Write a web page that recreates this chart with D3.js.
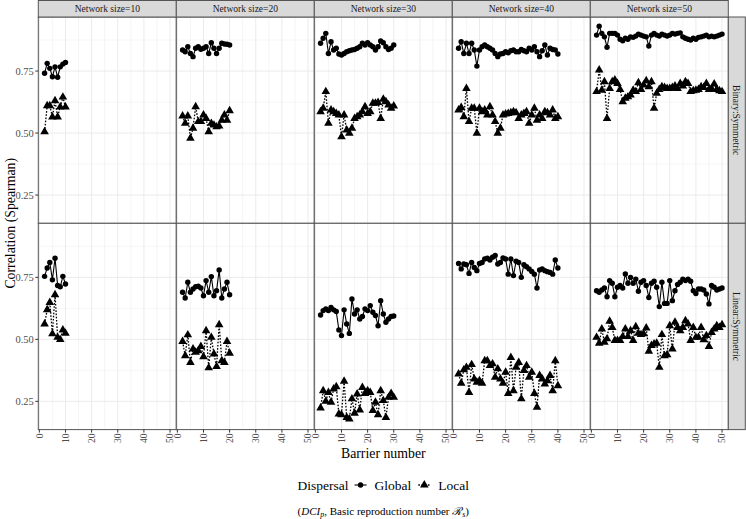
<!DOCTYPE html>
<html><head><meta charset="utf-8">
<script src="https://cdn.jsdelivr.net/npm/d3@7"></script>
<style>body{margin:0;background:#fff} svg{display:block}</style>
</head><body><svg id="c" width="746" height="519"></svg>
<script>
// ---- data ----
const networkSizes = [10, 20, 30, 40, 50];
const rowLabels = ["Binary:Symmetric", "Linear:Symmetric"];
const yTicks = [0.25, 0.50, 0.75];
const xTicks = [0, 10, 20, 30, 40, 50];
const firstBarrier = 2;

const binGlobal10 = [0.741,0.781,0.761,0.727,0.767,0.725,0.767,0.778,0.785];
const binLocal10  = [0.505,0.61,0.61,0.565,0.63,0.565,0.605,0.645,0.605];
const binGlobal20 = [0.835,0.828,0.848,0.821,0.808,0.842,0.848,0.838,0.842,0.848,0.821,0.864,0.842,0.821,0.842,0.862,0.859,0.858,0.855];
const binLocal20  = [0.569,0.539,0.569,0.479,0.519,0.606,0.546,0.546,0.573,0.559,0.505,0.539,0.532,0.525,0.528,0.552,0.573,0.552,0.590];
const binGlobal30 = [0.862,0.882,0.902,0.821,0.868,0.835,0.842,0.819,0.815,0.821,0.828,0.832,0.835,0.837,0.842,0.848,0.862,0.855,0.864,0.855,0.848,0.835,0.848,0.871,0.864,0.848,0.837,0.842,0.855];
const binLocal30  = [0.586,0.600,0.667,0.539,0.593,0.586,0.579,0.573,0.485,0.573,0.512,0.499,0.519,0.559,0.566,0.573,0.586,0.606,0.579,0.586,0.620,0.620,0.623,0.559,0.636,0.626,0.613,0.600,0.609];
const binGlobal40 = [0.842,0.868,0.821,0.862,0.821,0.862,0.835,0.770,0.835,0.848,0.855,0.848,0.842,0.835,0.821,0.808,0.819,0.821,0.828,0.824,0.832,0.835,0.828,0.828,0.837,0.832,0.828,0.842,0.835,0.848,0.828,0.808,0.832,0.855,0.815,0.842,0.837,0.835,0.819];
const binLocal40  = [0.593,0.603,0.566,0.680,0.546,0.600,0.600,0.499,0.600,0.586,0.593,0.573,0.606,0.573,0.546,0.499,0.519,0.573,0.577,0.579,0.582,0.586,0.582,0.559,0.573,0.579,0.586,0.539,0.573,0.600,0.552,0.573,0.559,0.586,0.582,0.573,0.593,0.559,0.566];
const binGlobal50 = [0.895,0.931,0.902,0.888,0.846,0.902,0.902,0.902,0.895,0.878,0.872,0.882,0.878,0.888,0.886,0.891,0.899,0.895,0.891,0.888,0.851,0.895,0.902,0.895,0.891,0.899,0.895,0.891,0.895,0.902,0.899,0.902,0.904,0.888,0.882,0.878,0.875,0.882,0.878,0.886,0.888,0.891,0.895,0.888,0.891,0.888,0.891,0.895,0.899];
const binLocal50  = [0.667,0.754,0.673,0.707,0.559,0.680,0.707,0.714,0.700,0.676,0.626,0.640,0.646,0.653,0.673,0.667,0.703,0.676,0.694,0.711,0.687,0.707,0.600,0.660,0.676,0.687,0.684,0.680,0.680,0.684,0.690,0.680,0.700,0.690,0.707,0.700,0.667,0.671,0.673,0.676,0.687,0.684,0.700,0.676,0.680,0.698,0.676,0.671,0.667];

const linGlobal10 = [0.754,0.788,0.810,0.740,0.827,0.717,0.712,0.754,0.723];
const linLocal10  = [0.562,0.619,0.649,0.522,0.680,0.508,0.499,0.538,0.524];
const linGlobal20 = [0.690,0.667,0.730,0.690,0.703,0.712,0.714,0.707,0.676,0.737,0.690,0.753,0.676,0.696,0.780,0.667,0.703,0.730,0.680];
const linLocal20  = [0.491,0.434,0.518,0.407,0.461,0.448,0.454,0.471,0.430,0.535,0.385,0.508,0.441,0.390,0.559,0.414,0.407,0.491,0.444];
const linGlobal30 = [0.598,0.616,0.623,0.616,0.629,0.619,0.612,0.538,0.515,0.619,0.562,0.524,0.663,0.602,0.619,0.582,0.592,0.623,0.616,0.636,0.609,0.596,0.555,0.656,0.602,0.569,0.582,0.592,0.594];
const linLocal30  = [0.223,0.293,0.250,0.286,0.246,0.300,0.309,0.199,0.196,0.331,0.185,0.179,0.260,0.202,0.280,0.215,0.306,0.282,0.293,0.286,0.213,0.246,0.196,0.293,0.253,0.185,0.266,0.282,0.266];
const linGlobal40 = [0.806,0.784,0.804,0.801,0.766,0.810,0.790,0.777,0.806,0.810,0.824,0.827,0.820,0.831,0.838,0.804,0.810,0.828,0.824,0.763,0.824,0.757,0.815,0.810,0.750,0.801,0.793,0.784,0.774,0.763,0.707,0.780,0.784,0.777,0.773,0.770,0.763,0.820,0.788];
const linLocal40  = [0.360,0.323,0.377,0.387,0.286,0.398,0.340,0.327,0.333,0.323,0.414,0.414,0.394,0.401,0.347,0.381,0.340,0.323,0.367,0.282,0.427,0.293,0.387,0.407,0.260,0.374,0.394,0.347,0.367,0.282,0.226,0.354,0.340,0.320,0.333,0.354,0.293,0.414,0.313];
const linGlobal50 = [0.696,0.690,0.699,0.707,0.672,0.737,0.726,0.672,0.710,0.717,0.707,0.764,0.726,0.750,0.726,0.743,0.694,0.730,0.737,0.717,0.669,0.726,0.734,0.710,0.632,0.730,0.645,0.645,0.737,0.656,0.696,0.721,0.730,0.743,0.737,0.743,0.734,0.696,0.685,0.703,0.703,0.699,0.683,0.643,0.717,0.710,0.699,0.703,0.707];
const linLocal50  = [0.508,0.484,0.542,0.488,0.502,0.573,0.548,0.495,0.495,0.495,0.511,0.542,0.511,0.535,0.495,0.551,0.524,0.519,0.522,0.546,0.452,0.475,0.481,0.484,0.387,0.519,0.434,0.438,0.555,0.461,0.569,0.548,0.535,0.548,0.575,0.562,0.495,0.548,0.508,0.508,0.548,0.498,0.515,0.471,0.528,0.542,0.555,0.548,0.559];

const globalByRow = [[binGlobal10,binGlobal20,binGlobal30,binGlobal40,binGlobal50],[linGlobal10,linGlobal20,linGlobal30,linGlobal40,linGlobal50]];
const localByRow  = [[binLocal10,binLocal20,binLocal30,binLocal40,binLocal50],[linLocal10,linLocal20,linLocal30,linLocal40,linLocal50]];

// ---- layout ----
const svg = d3.select("#c");
const serif = "'Liberation Serif','DejaVu Serif',serif";
const left0 = 38.3, pw = 138, stripH = 17, ph = 206.3;
const rowTop = [stripH, stripH + ph];
const colLeft = networkSizes.map((d,i) => left0 + i*pw);
const rightEdge = left0 + 5*pw;

const x = d3.scaleLinear().domain([-0.4, 52.4]).range([0, pw]);
const y = d3.scaleLinear().domain([0.136, 0.968]).range([ph, 0]);

const lineG = d3.line().x((d,i)=>x(i+firstBarrier)).y(d=>y(d));
const tri = d3.symbol().type(d3.symbolTriangle).size(32);

rowLabels.forEach((rl, r) => {
  networkSizes.forEach((ns, c) => {
    const g = svg.append("g").attr("transform", `translate(${colLeft[c]},${rowTop[r]})`);
    g.append("rect").attr("width", pw).attr("height", ph).attr("fill", "#fff");
    [0.375,0.625,0.875].forEach(v => g.append("line").attr("x1",0).attr("x2",pw).attr("y1",y(v)).attr("y2",y(v)).attr("stroke","#ebebeb").attr("stroke-width",0.5));
    [5,15,25,35,45].forEach(v => g.append("line").attr("y1",0).attr("y2",ph).attr("x1",x(v)).attr("x2",x(v)).attr("stroke","#ebebeb").attr("stroke-width",0.5));
    yTicks.forEach(v => g.append("line").attr("x1",0).attr("x2",pw).attr("y1",y(v)).attr("y2",y(v)).attr("stroke","#ebebeb").attr("stroke-width",1));
    xTicks.forEach(v => g.append("line").attr("y1",0).attr("y2",ph).attr("x1",x(v)).attr("x2",x(v)).attr("stroke","#ebebeb").attr("stroke-width",1));

    const gl = globalByRow[r][c], lo = localByRow[r][c];
    g.append("path").attr("d", lineG(lo)).attr("fill","none").attr("stroke","#000").attr("stroke-width",1.3).attr("stroke-dasharray","1.6,1.6");
    g.append("path").attr("d", lineG(gl)).attr("fill","none").attr("stroke","#000").attr("stroke-width",1.1);
    g.selectAll(".c").data(gl).join("circle").attr("cx",(d,i)=>x(i+firstBarrier)).attr("cy",d=>y(d)).attr("r",2.7).attr("fill","#000");
    g.selectAll(".t").data(lo).join("path").attr("d", tri).attr("transform",(d,i)=>`translate(${x(i+firstBarrier)},${y(d)})`).attr("fill","#000");

    g.append("rect").attr("width", pw).attr("height", ph).attr("fill","none").attr("stroke","#555").attr("stroke-width",1);

    if (c === 0) {
      yTicks.forEach(v => {
        g.append("line").attr("x1",-3).attr("x2",0).attr("y1",y(v)).attr("y2",y(v)).attr("stroke","#333");
        g.append("text").attr("x",-4.5).attr("y",y(v)).attr("dy","0.35em").attr("text-anchor","end")
          .attr("font-family",serif).attr("font-size",10.5).attr("fill","#4d4d4d").text(v.toFixed(2));
      });
    }
    if (r === 1) {
      xTicks.forEach(v => {
        g.append("line").attr("x1",x(v)).attr("x2",x(v)).attr("y1",ph).attr("y2",ph+3).attr("stroke","#333");
        g.append("text").attr("transform",`translate(${x(v)},${ph+4})rotate(-90)`).attr("dy","0.35em").attr("text-anchor","end")
          .attr("font-family",serif).attr("font-size",9.5).attr("fill","#4d4d4d").text(v);
      });
    }
  });
  const sg = svg.append("g").attr("transform", `translate(${rightEdge},${rowTop[r]})`);
  sg.append("rect").attr("width",17).attr("height",ph).attr("fill","#d9d9d9").attr("stroke","#555").attr("stroke-width",1);
  sg.append("text").attr("transform",`translate(8.5,${ph/2})rotate(90)`).attr("dy","0.35em").attr("text-anchor","middle")
    .attr("font-family",serif).attr("font-size",9.5).attr("fill","#1a1a1a").text(rl);
});

networkSizes.forEach((ns, c) => {
  const sg = svg.append("g").attr("transform", `translate(${colLeft[c]},0.5)`);
  sg.append("rect").attr("width",pw).attr("height",stripH-0.5).attr("fill","#d9d9d9").attr("stroke","#555").attr("stroke-width",1);
  sg.append("text").attr("x",pw/2).attr("y",(stripH-0.5)/2).attr("dy","0.35em").attr("text-anchor","middle")
    .attr("font-family",serif).attr("font-size",9.5).attr("fill","#1a1a1a").text("Network size=" + ns);
});

// axis titles
const midX = left0 + 2.5*pw;
svg.append("text").attr("x", midX).attr("y", 453).attr("dy","0.35em").attr("text-anchor","middle")
  .attr("font-family",serif).attr("font-size",13.8).attr("fill","#000").text("Barrier number");
svg.append("text").attr("transform", `translate(10,${stripH+ph})rotate(-90)`).attr("dy","0.35em").attr("text-anchor","middle")
  .attr("font-family",serif).attr("font-size",13.8).attr("fill","#000").text("Correlation (Spearman)");

// legend (centered)
const lg = svg.append("g").attr("transform","translate(0,485)");
const fs = 13.5;
const tDisp = lg.append("text").attr("dy","0.35em").attr("font-family",serif).attr("font-size",fs).text("Dispersal");
const tGlob = lg.append("text").attr("dy","0.35em").attr("font-family",serif).attr("font-size",fs).text("Global");
const tLoc  = lg.append("text").attr("dy","0.35em").attr("font-family",serif).attr("font-size",fs).text("Local");
const wD = tDisp.node().getComputedTextLength(), wG = tGlob.node().getComputedTextLength(), wL = tLoc.node().getComputedTextLength();
const keyW = 12, gapA = 6, gapB = 8, gapC = 7;
const total = wD + gapA + keyW + gapB + wG + gapC + keyW + gapB + wL;
let cx0 = midX - total/2;
tDisp.attr("x", cx0); cx0 += wD + gapA;
lg.append("line").attr("x1",cx0).attr("x2",cx0+keyW).attr("stroke","#000").attr("stroke-width",1.1);
lg.append("circle").attr("cx",cx0+keyW/2).attr("cy",0).attr("r",2.7);
cx0 += keyW + gapB;
tGlob.attr("x", cx0); cx0 += wG + gapC;
lg.append("line").attr("x1",cx0).attr("x2",cx0+keyW).attr("stroke","#000").attr("stroke-width",1.3).attr("stroke-dasharray","1.6,1.6");
lg.append("path").attr("d",tri).attr("transform",`translate(${cx0+keyW/2},0)`);
cx0 += keyW + gapB;
tLoc.attr("x", cx0);

// caption
const cap = svg.append("text").attr("x", midX).attr("y", 515).attr("text-anchor","middle")
  .attr("font-family",serif).attr("font-size",11).attr("fill","#000");
cap.append("tspan").text("(");
cap.append("tspan").attr("font-style","italic").text("DCI");
cap.append("tspan").attr("font-style","italic").attr("font-size",8).attr("dy",2).text("p");
cap.append("tspan").attr("dy",-2).text(", Basic reproduction number ");
cap.append("tspan").attr("font-style","italic").text("\u211B");
cap.append("tspan").attr("font-style","italic").attr("font-size",8).attr("dy",2).text("s");
cap.append("tspan").attr("dy",-2).text(")");
</script></body></html>
